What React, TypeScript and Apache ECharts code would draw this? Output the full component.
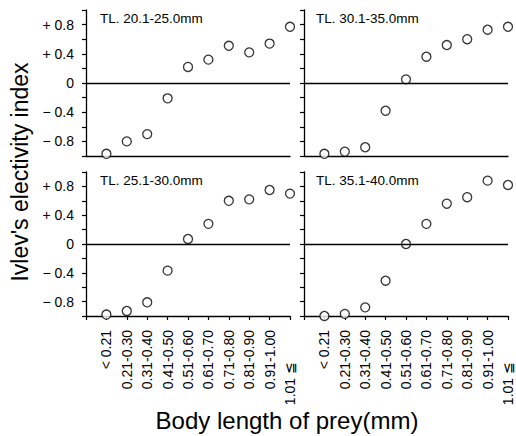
import React, { useEffect, useRef } from "react";
import * as echarts from "echarts";

const categories = [
  "< 0.21",
  "0.21-0.30",
  "0.31-0.40",
  "0.41-0.50",
  "0.51-0.60",
  "0.61-0.70",
  "0.71-0.80",
  "0.81-0.90",
  "0.91-1.00",
  "1.01 ≦",
];

const panelTitles = ["TL. 20.1-25.0mm", "TL. 30.1-35.0mm", "TL. 25.1-30.0mm", "TL. 35.1-40.0mm"];

const tl20_25 = [-0.97, -0.8, -0.7, -0.21, 0.22, 0.32, 0.51, 0.42, 0.54, 0.77];
const tl30_35 = [-0.97, -0.94, -0.88, -0.38, 0.05, 0.36, 0.52, 0.6, 0.73, 0.77];
const tl25_30 = [-0.98, -0.93, -0.81, -0.37, 0.07, 0.28, 0.6, 0.62, 0.75, 0.7];
const tl35_40 = [-1.0, -0.97, -0.88, -0.51, 0.0, 0.28, 0.56, 0.65, 0.88, 0.82];

const yLabelValues = [-0.8, -0.4, 0, 0.4, 0.8];
const yLabelTexts = ["− 0.8", "− 0.4", "0", "+ 0.4", "+ 0.8"];

const yTitle = "Ivlev's electivity index";
const xTitle = "Body length of prey(mm)";

const FONT = "Liberation Sans";

export default function App() {
  const ref = useRef<HTMLDivElement>(null);
  useEffect(() => {
    if (!ref.current) return;
    const chart = echarts.init(ref.current, null, { renderer: "svg" });
    const panels = [
      { data: tl20_25, left: 86, top: 10, height: 146, showY: true, showX: false },
      { data: tl30_35, left: 304, top: 10, height: 146, showY: false, showX: false },
      { data: tl25_30, left: 86, top: 172, height: 144, showY: true, showX: true },
      { data: tl35_40, left: 304, top: 172, height: 144, showY: false, showX: true },
    ];
    const axisLine = { show: true, lineStyle: { color: "#000", width: 1.3 } };
    const option: any = {
      animation: false,
      backgroundColor: "#fff",
      textStyle: { fontFamily: FONT },
      grid: panels.map((p) => ({ left: p.left, top: p.top, width: 204, height: p.height })),
      xAxis: panels.map((p, i) => ({
        type: "value",
        gridIndex: i,
        min: -1,
        max: 9,
        interval: 1,
        position: "bottom",
        axisLine: { ...axisLine, onZero: false },
        splitLine: { show: false },
        axisTick: { show: p.showX, length: 4, lineStyle: { color: "#000", width: 1.2 } },
        axisLabel: {
          show: p.showX,
          rotate: 90,
          margin: 14,
          fontSize: 14,
          color: "#000",
          fontFamily: FONT,
          formatter: (v: number) => {
            const k = Math.round(v);
            if (k < 0 || k >= categories.length) return "";
            return k === categories.length - 1 ? "{last|" + categories[k] + "}" : categories[k];
          },
          rich: {
            last: { fontSize: 14, color: "#000", fontFamily: FONT, padding: [0, 32, 0, 0] },
          },
        },
      })),
      yAxis: panels.map((p, i) => ({
        type: "value",
        gridIndex: i,
        min: -1,
        max: 1,
        interval: 0.2,
        axisLine: { ...axisLine, onZero: false },
        splitLine: { show: false },
        axisTick: { show: true, length: 4, lineStyle: { color: "#000", width: 1.2 } },
        axisLabel: {
          show: p.showY,
          margin: 12,
          fontSize: 14,
          color: "#000",
          fontFamily: FONT,
          formatter: (v: number) => {
            const idx = yLabelValues.findIndex((t) => Math.abs(t - v) < 1e-6);
            return idx >= 0 ? yLabelTexts[idx] : "";
          },
        },
      })),
      series: panels.map((p, i) => ({
        type: "scatter",
        xAxisIndex: i,
        yAxisIndex: i,
        symbol: "circle",
        symbolSize: 9,
        itemStyle: { color: "#fff", borderColor: "#000", borderWidth: 1.3 },
        data: p.data.map((y, k) => [k, y]),
        markLine: {
          silent: true,
          symbol: ["none", "none"],
          label: { show: false },
          lineStyle: { color: "#000", type: "solid", width: 1.3 },
          data: [{ yAxis: 0 }],
        },
      })),
      graphic: [
        ...panels.map((p, i) => ({
          type: "text",
          left: p.left + (i % 2 === 0 ? 14 : 12),
          top: p.top + 1,
          style: { text: panelTitles[i], fontSize: 13.5, fontFamily: FONT, fill: "#000" },
        })),
        {
          type: "text",
          x: 20,
          y: 172,
          rotation: Math.PI / 2,
          style: {
            text: yTitle,
            fontSize: 23,
            fontFamily: FONT,
            fill: "#000",
            align: "center",
            verticalAlign: "middle",
          },
        },
        {
          type: "text",
          x: 287,
          y: 420,
          style: {
            text: xTitle,
            fontSize: 24,
            fontFamily: FONT,
            fill: "#000",
            align: "center",
            verticalAlign: "middle",
          },
        },
      ],
    };
    chart.setOption(option);
    return () => chart.dispose();
  }, []);
  return (
    <div
      ref={ref}
      style={{ position: "absolute", left: 0, top: 0, width: 516, height: 436 }}
    />
  );
}
